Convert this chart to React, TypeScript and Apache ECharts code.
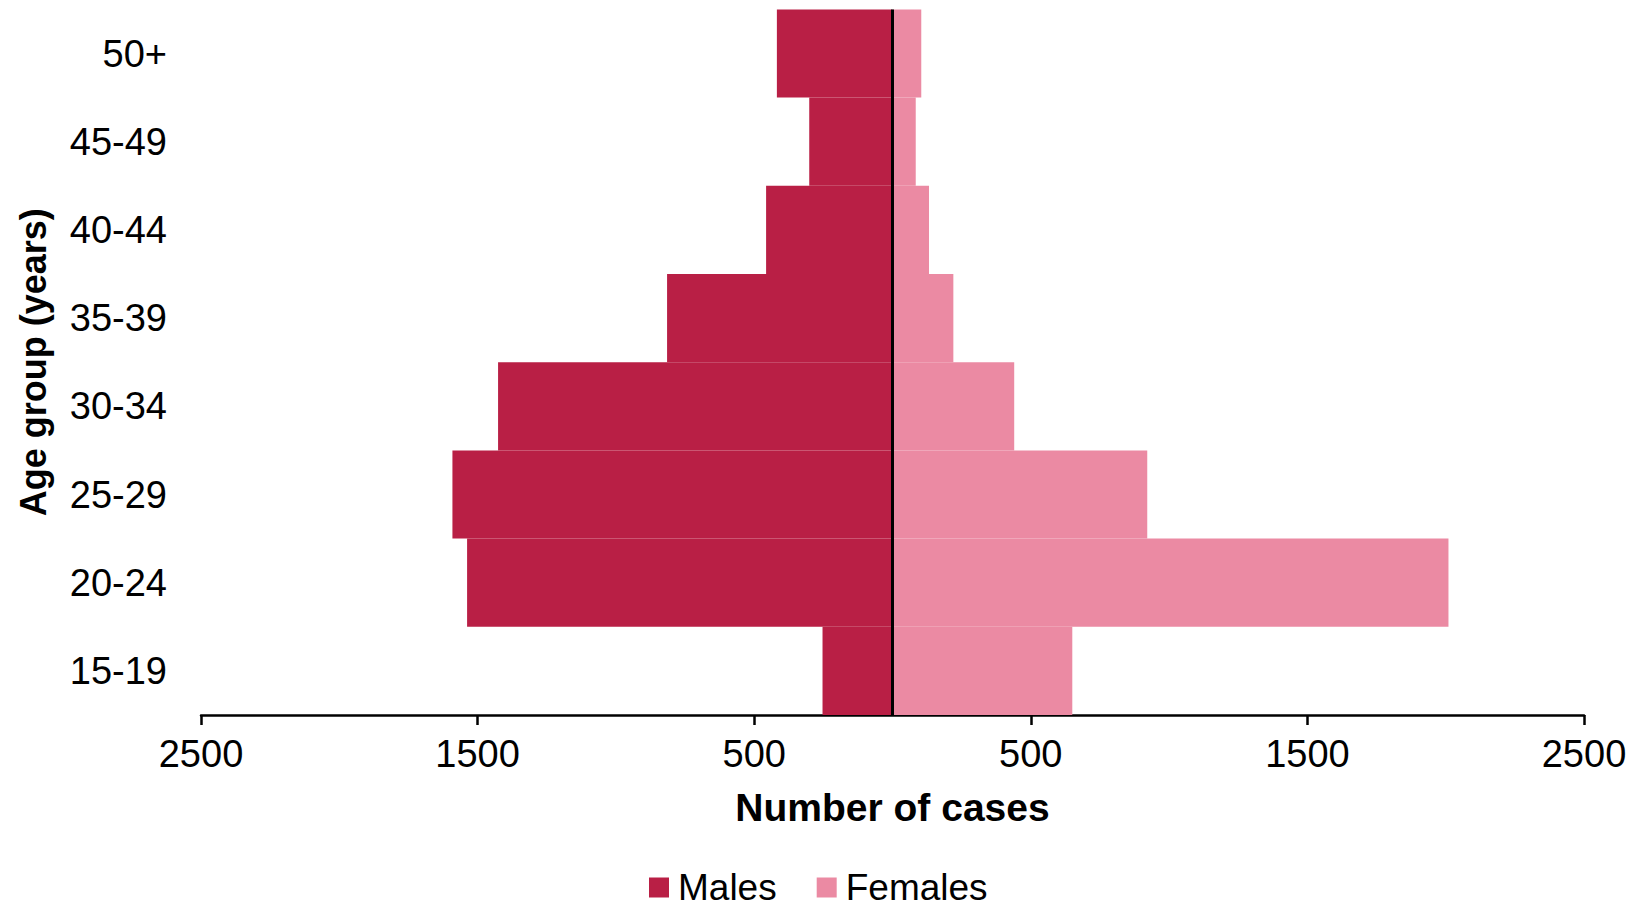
import React, { useEffect, useRef } from "react";
import * as echarts from "echarts";

const ageGroups = ["15-19", "20-24", "25-29", "30-34", "35-39", "40-44", "45-49", "50+"];
const males = [253, 1538, 1591, 1426, 815, 457, 301, 418];
const females = [650, 2010, 921, 440, 220, 132, 84, 104];
const xMin = -2500;
const xMax = 2500;
const xInterval = 1000;

const FONT = "'Liberation Sans', Arial, sans-serif";

export default function App() {
  const ref = useRef<HTMLDivElement>(null);

  useEffect(() => {
    if (!ref.current) return;
    const chart = echarts.init(ref.current, null, { renderer: "svg" });
    chart.setOption({
      animation: false,
      backgroundColor: "#ffffff",
      textStyle: { fontFamily: FONT, color: "#000" },
      grid: { left: 201, right: 51, top: 9.4, bottom: 198, containLabel: false },
      legend: {
        data: ["Males", "Females"],
        left: 649,
        top: 869,
        padding: 0,
        icon: "rect",
        itemWidth: 20,
        itemHeight: 20,
        itemGap: 40,
        textStyle: {
          fontSize: 37,
          lineHeight: 36,
          color: "#000",
          fontFamily: FONT,
          padding: [0, 0, 0, 4],
        },
      },
      xAxis: {
        type: "value",
        min: xMin,
        max: xMax,
        interval: xInterval,
        name: "Number of cases",
        nameLocation: "middle",
        nameGap: 73,
        nameTextStyle: { fontSize: 39, fontWeight: "bold", color: "#000", fontFamily: FONT },
        axisLine: { show: true, onZero: false, lineStyle: { color: "#000", width: 2.5 } },
        axisTick: { show: true, length: 10, inside: false, lineStyle: { color: "#000", width: 2.5 } },
        axisLabel: {
          fontSize: 38,
          color: "#000",
          margin: 20,
          fontFamily: FONT,
          formatter: (v: number) => String(Math.abs(v)),
        },
        splitLine: { show: false },
      },
      yAxis: {
        type: "category",
        data: ageGroups,
        name: "Age group (years)",
        nameLocation: "middle",
        nameGap: 150,
        nameRotate: 90,
        nameTextStyle: { fontSize: 36, fontWeight: "bold", color: "#000", fontFamily: FONT },
        axisLine: { show: false },
        axisTick: { show: false },
        axisLabel: { fontSize: 38, color: "#000", margin: 34, fontFamily: FONT },
        splitLine: { show: false },
      },
      series: [
        {
          name: "Males",
          type: "bar",
          stack: "all",
          barCategoryGap: "0%",
          data: males.map((v) => -v),
          itemStyle: { color: "#B91F45" },
          markLine: {
            silent: true,
            symbol: "none",
            label: { show: false },
            lineStyle: { color: "#000", width: 3, type: "solid" },
            data: [{ xAxis: 0 }],
          },
        },
        {
          name: "Females",
          type: "bar",
          stack: "all",
          barCategoryGap: "0%",
          data: females,
          itemStyle: { color: "#EB8AA3" },
        },
      ],
    });
    return () => chart.dispose();
  }, []);

  return (
    <div
      ref={ref}
      style={{ position: "fixed", left: 0, top: 0, width: "1635px", height: "913px" }}
    />
  );
}
